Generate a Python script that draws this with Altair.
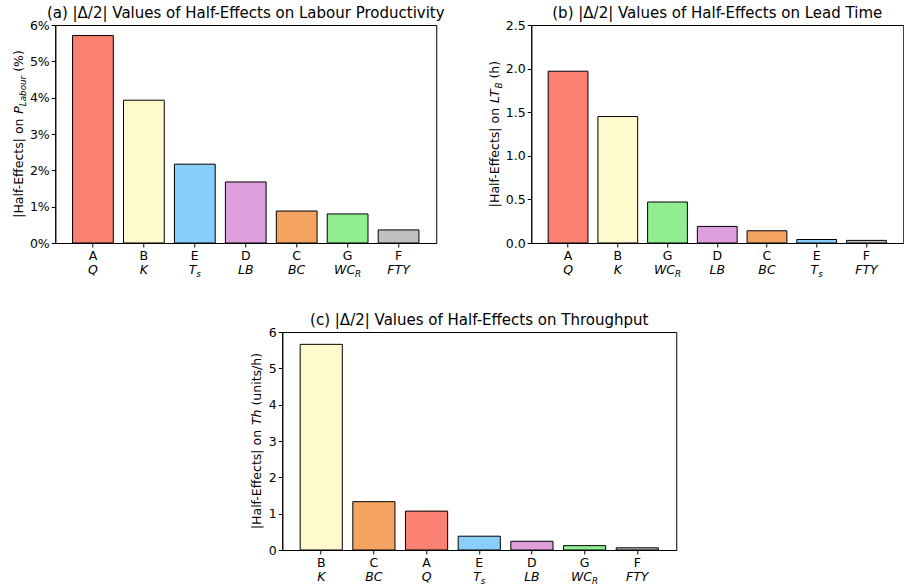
import altair as alt
import pandas as pd

# ---------------- data ----------------
factors_a = ["A", "B", "E", "D", "C", "G", "F"]
values_a = [5.71, 3.93, 2.17, 1.68, 0.88, 0.80, 0.36]

factors_b = ["A", "B", "G", "D", "C", "E", "F"]
values_b = [1.97, 1.45, 0.47, 0.19, 0.14, 0.04, 0.03]

factors_c = ["B", "C", "A", "E", "D", "G", "F"]
values_c = [5.66, 1.33, 1.07, 0.38, 0.24, 0.12, 0.06]

factor_letters = ["A", "B", "C", "D", "E", "F", "G"]
symbol_main = ["Q", "K", "BC", "LB", "T", "FTY", "WC"]
symbol_sub = ["", "", "", "", "s", "", "R"]
factor_colors = ["#FA8072", "#FFFACD", "#F4A460", "#DDA0DD", "#87CEFA", "#C0C0C0", "#90EE90"]

titles = [
    "(a) |Δ/2| Values of Half-Effects on Labour Productivity",
    "(b) |Δ/2| Values of Half-Effects on Lead Time",
    "(c) |Δ/2| Values of Half-Effects on Throughput",
]
ytitle_a = [("|Half-Effects| on ", False, False), ("P", True, False), ("Labour", True, True), (" (%)", False, False)]
ytitle_b = [("|Half-Effects| on ", False, False), ("LT", True, False), ("B", True, True), (" (h)", False, False)]
ytitle_c = [("|Half-Effects| on ", False, False), ("Th", True, False), (" (units/h)", False, False)]

FONT = "DejaVu Sans"
FS = 12.5
SUB = 0.7

# DejaVu Sans advance widths (em)
DV = {" ": .318, "|": .337, "H": .752, "a": .613, "l": .278, "f": .352, "-": .361, "E": .632,
      "e": .615, "c": .550, "t": .392, "s": .521, "o": .612, "n": .634, "(": .390, ")": .390,
      "%": .950, "P": .603, "L": .557, "b": .635, "u": .634, "r": .411, "T": .611, "B": .686,
      "h": .634, "i": .278, "/": .337, "K": .656, "Q": .787, "W": .989, "C": .698, "R": .695,
      "Y": .611, "F": .575, "D": .770}


def tw(s, size):
    return sum(DV.get(ch, 0.6) for ch in s) * size


sym_df = pd.DataFrame({"factor": factor_letters, "main": symbol_main, "sub": symbol_sub})
color_scale = alt.Scale(domain=factor_letters, range=factor_colors)


def panel(factors, values, title, ymax, tick_values, label_expr, ytitle, W, H, ytitle_x):
    df = pd.DataFrame({"factor": factors, "value": values})
    xscale = alt.Scale(domain=factors, paddingInner=0.2, paddingOuter=0.34)
    xaxis = alt.Axis(title=None, labelAngle=0, labelPadding=2, tickSize=4)
    xenc = alt.X("factor:N", scale=xscale, sort=factors, axis=xaxis)

    bars = alt.Chart(df).mark_bar(stroke="black", strokeWidth=1).encode(
        x=xenc,
        y=alt.Y("value:Q", scale=alt.Scale(domain=[0, ymax], nice=False, zero=True),
                axis=alt.Axis(title=None, values=tick_values, labelExpr=label_expr,
                              labelPadding=2, tickSize=4)),
        color=alt.Color("factor:N", scale=color_scale, legend=None),
    )

    layers = [bars]
    base = alt.Chart(sym_df).transform_filter(
        alt.FieldOneOfPredicate(field="factor", oneOf=factors))
    ybase = H + 31

    plain = base.transform_filter("datum.sub == ''").mark_text(
        font=FONT, fontSize=FS, fontStyle="italic", baseline="alphabetic", align="center", color="black"
    ).encode(x=xenc, y=alt.value(ybase), text="main:N")
    layers.append(plain)

    for letter, m, s in zip(factor_letters, symbol_main, symbol_sub):
        if not s or letter not in factors:
            continue
        wm = tw(m, FS)
        ws = tw(s, FS * SUB)
        total = wm + ws
        one = base.transform_filter(alt.FieldEqualPredicate(field="factor", equal=letter))
        main_l = one.mark_text(
            font=FONT, fontSize=FS, fontStyle="italic", baseline="alphabetic", align="left",
            dx=-total / 2, color="black"
        ).encode(x=xenc, y=alt.value(ybase), text="main:N")
        sub_l = one.mark_text(
            font=FONT, fontSize=FS * SUB, fontStyle="italic", baseline="alphabetic", align="left",
            dx=-total / 2 + wm, color="black"
        ).encode(x=xenc, y=alt.value(ybase + 2.5), text="sub:N")
        layers += [main_l, sub_l]

    # rotated y-axis title built from pieces (reads bottom to top)
    widths = [tw(t, FS * (SUB if sub else 1)) for t, _, sub in ytitle]
    total = sum(widths)
    start = H / 2 + total / 2
    cum = 0
    for (t, ital, sub), w in zip(ytitle, widths):
        size = FS * (SUB if sub else 1)
        lead = len(t) - len(t.lstrip(" "))
        offset = lead * DV[" "] * size
        piece = alt.Chart(pd.DataFrame({"t": [t.strip(" ")]})).mark_text(
            font=FONT, fontSize=size, fontStyle="italic" if ital else "normal",
            angle=270, align="left", baseline="alphabetic", color="black"
        ).encode(x=alt.value(ytitle_x + (2.5 if sub else 0)), y=alt.value(start - cum - offset), text="t:N")
        layers.append(piece)
        cum += w

    return alt.layer(*layers).properties(
        width=W, height=H,
        title=alt.Title(title, font=FONT, fontSize=15, fontWeight="normal", color="black",
                        anchor="middle", offset=-2),
    )


pa = panel(factors_a, values_a, titles[0], 6, [0, 1, 2, 3, 4, 5, 6], "datum.value + '%'",
           ytitle_a, 381, 218, -32)
pb = panel(factors_b, values_b, titles[1], 2.5, [0, 0.5, 1.0, 1.5, 2.0, 2.5], "format(datum.value, '.1f')",
           ytitle_b, 372, 218, -32)
pc = panel(factors_c, values_c, titles[2], 6, [0, 1, 2, 3, 4, 5, 6], "datum.value",
           ytitle_c, 394, 218, -21)

top = alt.hconcat(pa, pb, spacing=95, bounds="flush")
chart = alt.vconcat(top, pc, spacing=33, center=True).resolve_scale(
    color="shared"
).configure_view(
    stroke="black", strokeWidth=1
).configure_axis(
    domainColor="black", tickColor="black", labelColor="black", labelFont=FONT,
    labelFontSize=FS, grid=False, domainWidth=1, tickWidth=1
).properties(
    padding={"left": 12, "top": 5, "right": 0, "bottom": 0},
    background="white",
)

chart.save("out.html", embed_options={"renderer": "svg", "actions": False})
